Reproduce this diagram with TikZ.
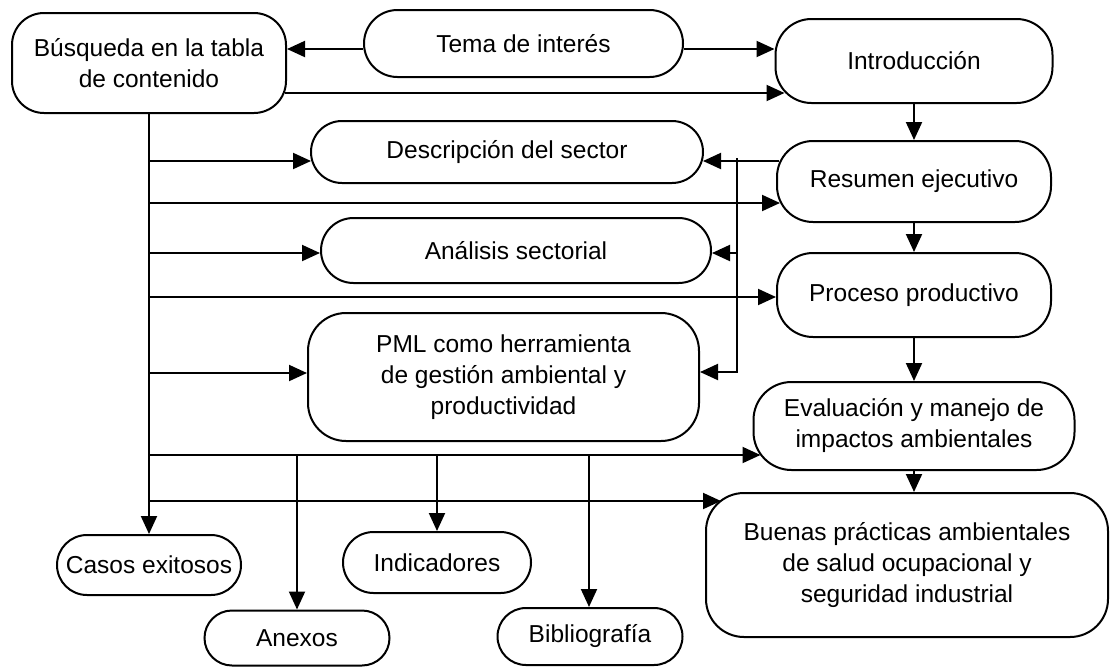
\documentclass[tikz,border=0pt]{standalone}
\usepackage{fontspec}
\setmainfont{Liberation Sans}
\usetikzlibrary{arrows.meta,calc}
\begin{document}
\begin{tikzpicture}[x=1pt,y=-1pt,
  box/.style={draw,line width=2pt,align=center,inner sep=0pt,
    font=\fontsize{24.5}{31}\selectfont},
  ln/.style={line width=2pt},
  arr/.style={line width=2pt,-{Triangle[length=18pt,width=16pt]}}]
\useasboundingbox (0,0) rectangle (1110,667);

% nodes
\node[box,rounded corners=32pt,minimum width=274pt,minimum height=100pt] (busq) at (149,63) {Búsqueda en la tabla\\de contenido};
\node[box,rounded corners=33.5pt,minimum width=319pt,minimum height=67pt] (tema) at (523.5,43.5) {Tema de interés};
\node[box,rounded corners=36pt,minimum width=277pt,minimum height=84pt] (intro) at (914,61) {Introducción};
\node[box,rounded corners=31pt,minimum width=392pt,minimum height=62pt] (desc) at (507,152) {Descripción del sector};
\node[box,rounded corners=36pt,minimum width=274pt,minimum height=81pt] (res) at (914,181.5) {Resumen ejecutivo};
\node[box,rounded corners=32.5pt,minimum width=390pt,minimum height=65pt] (anal) at (516,250.5) {Análisis sectorial};
\node[box,rounded corners=36pt,minimum width=274pt,minimum height=84pt] (proc) at (914,295) {Proceso productivo};
\node[box,rounded corners=38pt,minimum width=391pt,minimum height=128pt] (pml) at (503.5,377) {PML como herramienta\\de gestión ambiental y\\productividad};
\node[box,rounded corners=38pt,minimum width=321pt,minimum height=88pt] (eval) at (914,426) {Evaluación y manejo de\\impactos ambientales};
\node[box,rounded corners=38pt,minimum width=402pt,minimum height=144pt] (buenas) at (907,565) {Buenas prácticas ambientales\\de salud ocupacional y\\seguridad industrial};
\node[box,rounded corners=30pt,minimum width=184pt,minimum height=60pt] (casos) at (149,565) {Casos exitosos};
\node[box,rounded corners=30.5pt,minimum width=188pt,minimum height=61pt] (indic) at (437,562.5) {Indicadores};
\node[box,rounded corners=27.5pt,minimum width=185pt,minimum height=55pt] (anexos) at (297,638) {Anexos};
\node[box,rounded corners=28.5pt,minimum width=185pt,minimum height=57pt] (biblio) at (590,636.5) {Bibliografía};

% level coordinates
\coordinate (yt) at (0,49);
\coordinate (y93) at (0,93);
\coordinate (h161) at (149,161);
\coordinate (h203) at (149,203);
\coordinate (h253) at (149,253);
\coordinate (h297) at (149,297);
\coordinate (h373) at (149,373);
\coordinate (h455) at (149,455);
\coordinate (h501) at (149,501);
\coordinate (v161) at (737,161);
\coordinate (v253) at (737,253);
\coordinate (v372) at (737,372);
\coordinate (b297) at (297,455);
\coordinate (b437) at (437,455);
\coordinate (b589) at (589,455);

% top connectors
\draw[arr] (tema.west |- yt) -- (busq.east |- yt);
\draw[arr] (tema.east |- yt) -- (intro.west |- yt);
\draw[arr] ($(busq.east |- y93)+(-2,0)$) -- ($(intro.west |- y93)+(10,0)$);

% trunk
\draw[arr] (busq.south) -- (casos.north);
\draw[arr] (h161) -- ($(desc.west |- h161)+(1,0)$);
\draw[arr] (h203) -- ($(res.west |- h203)+(4,0)$);
\draw[arr] (h253) -- (anal.west |- h253);
\draw[arr] (h297) -- (proc.west |- h297);
\draw[arr] (h373) -- (pml.west |- h373);
\draw[arr] (h455) -- ($(eval.west |- h455)+(8,0)$);
\draw[arr] (h501) -- ($(buenas.west |- h501)+(16,0)$);
\draw[arr] (b297) -- (anexos.north);
\draw[arr] (b437) -- (indic.north);
\draw[arr] (b589) -- (b589 |- biblio.north);

% right column
\draw[arr] (intro.south) -- (res.north);
\draw[arr] (res.south) -- (proc.north);
\draw[arr] (proc.south) -- (eval.north);
\draw[arr] (eval.south) -- (eval.south |- buenas.north);

% feedback from Resumen
\draw[arr] ($(res.west |- v161)+(3,0)$) -- ($(desc.east |- v161)+(-1,0)$);
\draw[ln] ($(v161)+(0,-3)$) -- ($(v372)+(0,1)$);
\draw[arr] (v253) -- (anal.east |- v253);
\draw[arr] (v372) -- (pml.east |- v372);
\end{tikzpicture}
\end{document}
